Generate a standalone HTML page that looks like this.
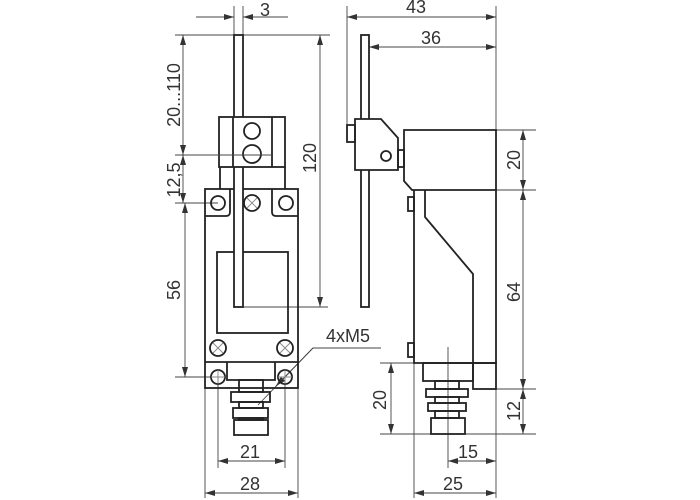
<!DOCTYPE html>
<html><head><meta charset="utf-8"><style>
html,body{margin:0;padding:0;background:#fff;}
svg{display:block;}
text{font-family:"Liberation Sans",sans-serif;font-size:18px;fill:#333;}
</style></head><body>
<svg width="700" height="500" viewBox="0 0 700 500" xmlns="http://www.w3.org/2000/svg">
<defs>
<marker id="a" viewBox="0 0 10 6" refX="10" refY="3" markerWidth="10" markerHeight="6" orient="auto-start-reverse" markerUnits="userSpaceOnUse"><path d="M0,0 L10,3 L0,6 z" fill="#333"/></marker>
</defs>
<g stroke="#444" stroke-width="0.9" fill="none">
<line x1="234" y1="6" x2="234" y2="35"/><line x1="243" y1="6" x2="243" y2="35"/>
<line x1="196" y1="17" x2="234" y2="17" marker-end="url(#a)"/>
<line x1="288" y1="17" x2="243" y2="17" marker-end="url(#a)"/>
<line x1="175" y1="35" x2="330" y2="35"/>
<line x1="175" y1="203" x2="218" y2="203"/>
<line x1="175" y1="377" x2="218" y2="377"/>
<line x1="183" y1="35" x2="183" y2="155" marker-start="url(#a)" marker-end="url(#a)"/>
<line x1="183" y1="155" x2="183" y2="203" marker-start="url(#a)" marker-end="url(#a)"/>
<line x1="185" y1="203" x2="185" y2="377" marker-start="url(#a)" marker-end="url(#a)"/>
<line x1="320" y1="35" x2="320" y2="307" marker-start="url(#a)" marker-end="url(#a)"/>
<line x1="243" y1="307" x2="328" y2="307"/>
<line x1="205" y1="388" x2="205" y2="498"/><line x1="298" y1="388" x2="298" y2="498"/>
<line x1="218" y1="377" x2="218" y2="468"/><line x1="285" y1="377" x2="285" y2="468"/>
<line x1="218" y1="461" x2="285" y2="461" marker-start="url(#a)" marker-end="url(#a)"/>
<line x1="205" y1="493" x2="298" y2="493" marker-start="url(#a)" marker-end="url(#a)"/>
<polyline points="381,348 313,348 258,405"/>
<line x1="313" y1="348" x2="276" y2="386" marker-end="url(#a)"/>
<line x1="347" y1="6" x2="347" y2="140"/>
<line x1="496" y1="6" x2="496" y2="130"/>
<line x1="347" y1="17" x2="496" y2="17" marker-start="url(#a)" marker-end="url(#a)"/>
<line x1="369" y1="47" x2="496" y2="47" marker-start="url(#a)" marker-end="url(#a)"/>
<line x1="496" y1="130" x2="536" y2="130"/><line x1="496" y1="190" x2="536" y2="190"/>
<line x1="496" y1="389" x2="536" y2="389"/><line x1="380" y1="434" x2="536" y2="434"/>
<line x1="380" y1="363" x2="414" y2="363"/>
<line x1="523" y1="130" x2="523" y2="190" marker-start="url(#a)" marker-end="url(#a)"/>
<line x1="523" y1="190" x2="523" y2="389" marker-start="url(#a)" marker-end="url(#a)"/>
<line x1="523" y1="389" x2="523" y2="434" marker-start="url(#a)" marker-end="url(#a)"/>
<line x1="391" y1="363" x2="391" y2="434" marker-start="url(#a)" marker-end="url(#a)"/>
<line x1="448" y1="347" x2="448" y2="468"/>
<line x1="414" y1="363" x2="414" y2="498"/><line x1="496" y1="389" x2="496" y2="498"/>
<line x1="448" y1="461" x2="496" y2="461" marker-start="url(#a)" marker-end="url(#a)"/>
<line x1="414" y1="493" x2="496" y2="493" marker-start="url(#a)" marker-end="url(#a)"/>
</g>
<g stroke="#222" stroke-width="1.8" fill="none">
<line x1="220" y1="167" x2="220" y2="189"/><line x1="285" y1="167" x2="285" y2="189"/>
<rect x="205" y="189" width="93" height="199"/>
<path d="M205,216 H226 Q230,216 230,212 V189"/>
<path d="M298,216 H276 Q272,216 272,212 V189"/>
<circle cx="218" cy="203" r="7"/><circle cx="286" cy="203" r="7"/>
<circle cx="252" cy="203" r="8"/>
<rect x="217" y="252" width="71" height="81"/>
<rect x="234" y="35" width="9" height="272" fill="#fff"/>
<rect x="219" y="117" width="66" height="50" fill="#fff"/>
<line x1="233" y1="117" x2="233" y2="167"/><line x1="272" y1="117" x2="272" y2="167"/>
<circle cx="252" cy="131" r="8"/><circle cx="252" cy="154" r="9"/>
<circle cx="218" cy="348" r="8"/><circle cx="285" cy="348" r="8"/>
<line x1="205" y1="362" x2="298" y2="362"/>
<circle cx="218" cy="377" r="7"/><circle cx="285" cy="377" r="7"/>
<path d="M227,362 V380 H275 V362"/>
<rect x="239" y="380" width="24" height="12"/>
<rect x="231" y="392" width="39" height="10"/>
<rect x="239" y="402" width="24" height="6"/>
<rect x="233" y="408" width="35" height="10"/>
<rect x="239" y="418" width="24" height="2"/>
<rect x="234" y="420" width="34" height="15"/>
<rect x="361" y="35" width="8" height="272"/>
<path d="M355,119 H381 L398,138 V170 H355 Z" fill="#fff"/>
<rect x="347" y="125" width="8" height="17"/>
<circle cx="386" cy="156" r="5"/>
<rect x="398" y="150" width="6" height="17"/>
<path d="M404,130 H496 V190 H412 L404,181 Z"/>
<path d="M414,190 V363 H496 V190"/>
<path d="M425,190 V217 L473,274 V363"/>
<rect x="473" y="363" width="23" height="26"/>
<rect x="408" y="197" width="6" height="14"/>
<rect x="408" y="343" width="6" height="14"/>
<rect x="423" y="363" width="50" height="18"/>
<rect x="435" y="381" width="24" height="8"/>
<rect x="426" y="389" width="42" height="8"/>
<rect x="435" y="397" width="24" height="6"/>
<rect x="428" y="403" width="38" height="8"/>
<rect x="435" y="411" width="24" height="7"/>
<rect x="431" y="418" width="34" height="16"/>
</g>
<g stroke="#444" stroke-width="0.9" fill="none">
<line x1="175" y1="155" x2="272" y2="155"/>
</g>
<g stroke="#888" stroke-width="0.9">
<path d="M247,198 L257,208 M257,198 L247,208"/>
<path d="M213,343 L223,353 M223,343 L213,353"/>
<path d="M280,343 L290,353 M290,343 L280,353"/>
<path d="M218,370 V384 M211,377 H225 M285,370 V384 M278,377 H292"/>
</g>
<text x="260" y="16">3</text>
<text x="406" y="13">43</text>
<text x="421" y="44">36</text>
<text x="326" y="342">4xM5</text>
<text x="240" y="458">21</text>
<text x="240" y="490">28</text>
<text x="458" y="458">15</text>
<text x="443" y="490">25</text>
<text transform="translate(180,95) rotate(-90)" text-anchor="middle">20...110</text>
<text transform="translate(180,180) rotate(-90)" text-anchor="middle">12,5</text>
<text transform="translate(180,290) rotate(-90)" text-anchor="middle">56</text>
<text transform="translate(316,158) rotate(-90)" text-anchor="middle">120</text>
<text transform="translate(520,160) rotate(-90)" text-anchor="middle">20</text>
<text transform="translate(520,292) rotate(-90)" text-anchor="middle">64</text>
<text transform="translate(520,411) rotate(-90)" text-anchor="middle">12</text>
<text transform="translate(386,400) rotate(-90)" text-anchor="middle">20</text>
</svg>
</body></html>
